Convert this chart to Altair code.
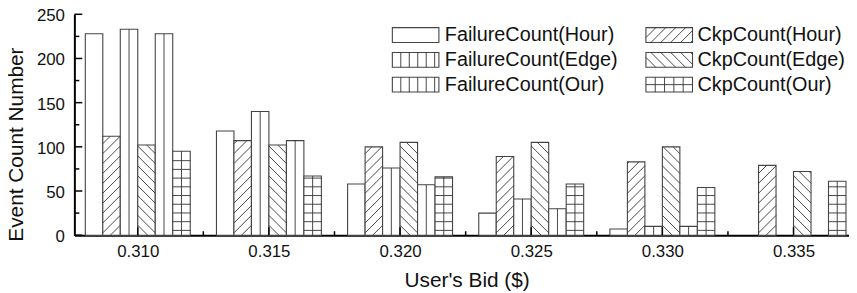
import altair as alt
import pandas as pd

# ---------------- data ----------------
bids = [0.310, 0.315, 0.320, 0.325, 0.330, 0.335]
series = ["FailureCount(Hour)", "CkpCount(Hour)", "FailureCount(Edge)",
          "CkpCount(Edge)", "FailureCount(Our)", "CkpCount(Our)"]
failure_hour = [228, 118, 58, 25, 7, 0]
ckp_hour = [112, 107, 100, 89, 83, 79]
failure_edge = [233, 140, 76, 41, 10, 0]
ckp_edge = [102, 102, 105, 105, 100, 72]
failure_our = [228, 107, 57, 30, 10, 0]
ckp_our = [95, 67, 66, 58, 54, 61]
x_ticks = [0.310, 0.315, 0.320, 0.325, 0.330, 0.335]
x_minor = [0.3125, 0.3175, 0.3225, 0.3275, 0.3325]
y_ticks = [0, 50, 100, 150, 200, 250]
y_minor = [25, 75, 125, 175, 225]

values = [failure_hour, ckp_hour, failure_edge, ckp_edge, failure_our, ckp_our]
patterns = ["none", "slash", "vline", "backslash", "vline", "grid"]

# ---------------- layout / style ----------------
W, H = 782, 223
PX_PER_X = 26480.0
X0 = 0.310 - 64.0 / PX_PER_X
X1 = X0 + W / PX_PER_X
BAR_W = 0.005 * 0.8 / 6
PX_PER_Y = H / 250.0
FONT = "Liberation Sans"
HATCH = "#333333"
EDGE = "#444444"

D = BAR_W * PX_PER_X / PX_PER_Y      # rise of a 45 degree hatch line over one bar
S = 10.0 / PX_PER_Y                  # hatch spacing (data units)
GRID_S = 8.8 / PX_PER_Y


def clip_seg(xa, ya, xb, yb, ylo, yhi):
    t0, t1 = 0.0, 1.0
    dy_ = yb - ya
    if dy_ == 0:
        if ya < ylo or ya > yhi:
            return None
    else:
        ta = (ylo - ya) / dy_
        tb = (yhi - ya) / dy_
        lo, hi = min(ta, tb), max(ta, tb)
        t0, t1 = max(t0, lo), min(t1, hi)
        if t1 - t0 <= 1e-9:
            return None
    return (xa + (xb - xa) * t0, ya + dy_ * t0, xa + (xb - xa) * t1, ya + dy_ * t1)


bar_rows, hatch_rows = [], []
for gi, bid in enumerate(bids):
    for si, name in enumerate(series):
        v = values[si][gi]
        if v <= 0:
            continue
        xl = bid + (si - 3) * BAR_W
        xr = xl + BAR_W
        bar_rows.append({"series": name, "x1": xl, "x2": xr, "y1": v, "y2": 0})
        pat = patterns[si]
        if pat in ("slash", "backslash"):
            y0 = -D
            while y0 < v:
                if pat == "slash":
                    seg = clip_seg(xl, y0, xr, y0 + D, 0, v)
                else:
                    seg = clip_seg(xl, y0 + D, xr, y0, 0, v)
                if seg:
                    hatch_rows.append(dict(zip(["x1", "y1", "x2", "y2"], seg)))
                y0 += S
        if pat in ("vline", "grid"):
            xm = (xl + xr) / 2
            hatch_rows.append({"x1": xm, "y1": 0, "x2": xm, "y2": v})
        if pat == "grid":
            y = GRID_S * 0.55
            while y < v - 1:
                hatch_rows.append({"x1": xl, "y1": y, "x2": xr, "y2": y})
                y += GRID_S

# ---------------- legend (laid out in pixels, converted to data units) ----------------
def dx(px):
    return X0 + px / PX_PER_X


def dy(py):
    return 250 - py / PX_PER_Y


col_x = [321, 577]
col_text_x = [374, 629]
row_y = [21, 46, 71]
SW, SH = 47, 15
leg_order = [(0, 0), (1, 0), (0, 1), (1, 1), (0, 2), (1, 2)]

leg_text = []
for si, name in enumerate(series):
    c, r = leg_order[si]
    bx0, bx1 = col_x[c], col_x[c] + SW
    by0, by1 = row_y[r] - SH / 2, row_y[r] + SH / 2
    xl, xr, yb, yt = dx(bx0), dx(bx1), dy(by1), dy(by0)
    bar_rows.append({"series": name, "x1": xl, "x2": xr, "y1": yt, "y2": yb})
    leg_text.append({"x": dx(col_text_x[c]), "y": dy(row_y[r]), "label": name})
    pat = patterns[si]
    if pat in ("slash", "backslash"):
        a = bx0 - SH
        while a < bx1:
            t0 = max(0.0, (bx0 - a) / SH)
            t1 = min(1.0, (bx1 - a) / SH)
            if t1 > t0:
                if pat == "slash":
                    ya, yb2 = by1 - t0 * SH, by1 - t1 * SH
                else:
                    ya, yb2 = by0 + t0 * SH, by0 + t1 * SH
                hatch_rows.append({"x1": dx(a + t0 * SH), "y1": dy(ya),
                                   "x2": dx(a + t1 * SH), "y2": dy(yb2)})
            a += 10
    if pat in ("vline", "grid"):
        step = SW / 5.5 if pat == "vline" else SW / 5
        xx = bx0 + step
        while xx < bx1 - 1:
            hatch_rows.append({"x1": dx(xx), "y1": yb, "x2": dx(xx), "y2": yt})
            xx += step
    if pat == "grid":
        ym = dy(row_y[r])
        hatch_rows.append({"x1": xl, "y1": ym, "x2": xr, "y2": ym})

bars_df = pd.DataFrame(bar_rows)
hatch_df = pd.DataFrame(hatch_rows)
leg_text_df = pd.DataFrame(leg_text)

# ---------------- chart ----------------
xscale = alt.Scale(domain=[X0, X1], nice=False, zero=False)
yscale = alt.Scale(domain=[0, 250], nice=False, zero=True)
xaxis = alt.Axis(values=x_ticks, format=".3f", title="User's Bid ($)",
                 labelPadding=9, titleFontSize=21, titleBaseline="alphabetic",
                 titleAlign="center", titleX=396, titleY=52)
yaxis = alt.Axis(values=y_ticks, title="Event Count Number",
                 labelPadding=10, labelOffset=1.5, titleFontSize=21,
                 titleBaseline="alphabetic", titleAlign="center", titleAngle=270,
                 titleX=-52, titleY=131)

bars = alt.Chart(bars_df).mark_rect(fill="white", stroke=EDGE, strokeWidth=1.1).encode(
    x=alt.X("x1:Q", scale=xscale, axis=xaxis),
    x2="x2:Q",
    y=alt.Y("y1:Q", scale=yscale, axis=yaxis),
    y2="y2:Q",
)

hatch = alt.Chart(hatch_df).mark_rule(color=HATCH, strokeWidth=0.9).encode(
    x=alt.X("x1:Q", scale=xscale, axis=xaxis),
    x2="x2:Q",
    y=alt.Y("y1:Q", scale=yscale, axis=yaxis),
    y2="y2:Q",
)

ytick_major = alt.Chart(pd.DataFrame({"t": y_ticks})).mark_rule(color="black", strokeWidth=1.5).encode(
    y=alt.Y("t:Q", scale=yscale, axis=yaxis), x=alt.value(0), x2=alt.value(8))
ytick_minor = alt.Chart(pd.DataFrame({"t": y_minor})).mark_rule(color="black", strokeWidth=1.5).encode(
    y=alt.Y("t:Q", scale=yscale, axis=yaxis), x=alt.value(0), x2=alt.value(5))
xtick_major = alt.Chart(pd.DataFrame({"t": x_ticks})).mark_rule(color="black", strokeWidth=1.5).encode(
    x=alt.X("t:Q", scale=xscale, axis=xaxis), y=alt.value(H), y2=alt.value(H - 8))
xtick_minor = alt.Chart(pd.DataFrame({"t": x_minor})).mark_rule(color="black", strokeWidth=1.5).encode(
    x=alt.X("t:Q", scale=xscale, axis=xaxis), y=alt.value(H), y2=alt.value(H - 4))

ltext = alt.Chart(leg_text_df).mark_text(align="left", baseline="middle", font=FONT,
                                          fontSize=20, color="#111111").encode(
    x=alt.X("x:Q", scale=xscale, axis=xaxis),
    y=alt.Y("y:Q", scale=yscale, axis=yaxis),
    text="label:N")

chart = alt.layer(
    bars, hatch, ytick_major, ytick_minor, xtick_major, xtick_minor, ltext
).properties(
    width=W, height=H,
    autosize=alt.AutoSizeParams(type="none"),
    padding={"left": 67, "top": 5, "right": 0, "bottom": 57},
).configure_view(
    stroke=None
).configure_axis(
    domainColor="black", domainWidth=2, ticks=False, grid=False,
    labelFont=FONT, labelFontSize=17, labelColor="#111111",
    titleFont=FONT, titleFontWeight="normal", titleColor="#111111",
)

chart.save("out.html", embed_options={"renderer": "svg", "actions": False})
